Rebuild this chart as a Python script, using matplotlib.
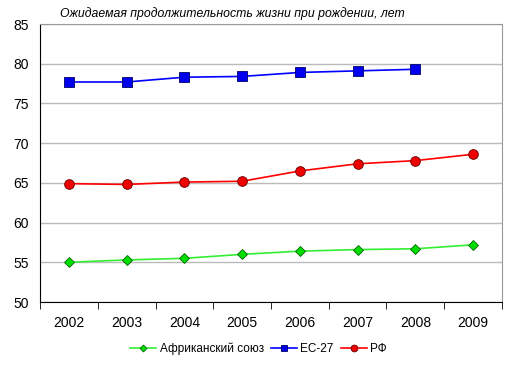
import numpy as np
import matplotlib.pyplot as plt

plt.rcParams['font.family'] = ['Liberation Sans', 'DejaVu Sans']

years = ['2002', '2003', '2004', '2005', '2006', '2007', '2008', '2009']
au = [55.0, 55.3, 55.5, 56.0, 56.4, 56.6, 56.7, 57.2]
eu = [77.7, 77.7, 78.3, 78.4, 78.9, 79.1, 79.3]
rf = [64.9, 64.8, 65.1, 65.2, 66.5, 67.4, 67.8, 68.6]

fig = plt.figure(figsize=(5.17, 3.65), dpi=100)
ax = fig.add_axes([40/517, 63/365, 462/517, 278/365])

x = np.arange(len(years))
ax.plot(x, au, color='#33ee33', marker='D', markersize=5, markerfacecolor='#00dd00',
        markeredgecolor='#006600', markeredgewidth=0.6, lw=1.2, label='Африканский союз')
ax.plot(x[:len(eu)], eu, color='#0000ff', marker='s', markersize=7, markerfacecolor='#0000ee',
        markeredgecolor='#000066', markeredgewidth=0.6, lw=1.2, label='ЕС-27')
ax.plot(x, rf, color='#ff0000', marker='o', markersize=7, markerfacecolor='#ee0000',
        markeredgecolor='#660000', markeredgewidth=0.6, lw=1.2, label='РФ')

ax.set_xlim(-0.5, 7.5)
ax.set_ylim(50, 85)
ax.set_yticks(range(50, 86, 5))
ax.set_xticks(x)
ax.set_xticklabels(years)
ax.set_xticks(np.arange(-0.5, 8, 1), minor=True)
ax.tick_params(axis='x', which='major', length=0, pad=10, labelsize=10)
ax.tick_params(axis='x', which='minor', length=5, direction='out', color='black')
ax.tick_params(axis='y', length=0, pad=8, labelsize=10)
ax.grid(axis='y', color='#bbbbbb', lw=1)
ax.set_axisbelow(True)
for s in ['top', 'right']:
    ax.spines[s].set_color('#999999')
for s in ['left', 'bottom']:
    ax.spines[s].set_color('black')

fig.text(60/517, 1 - 14/365, 'Ожидаемая продолжительность жизни при рождении, лет',
         fontsize=8.8, style='italic', va='center', ha='left')

leg = fig.legend(loc='center', bbox_to_anchor=(0.5, 1 - 349/365), ncol=3, frameon=False,
                 fontsize=8.5, markerscale=0.7, handlelength=2.2, columnspacing=0.6,
                 handletextpad=0.3)

fig.savefig('out.png')
